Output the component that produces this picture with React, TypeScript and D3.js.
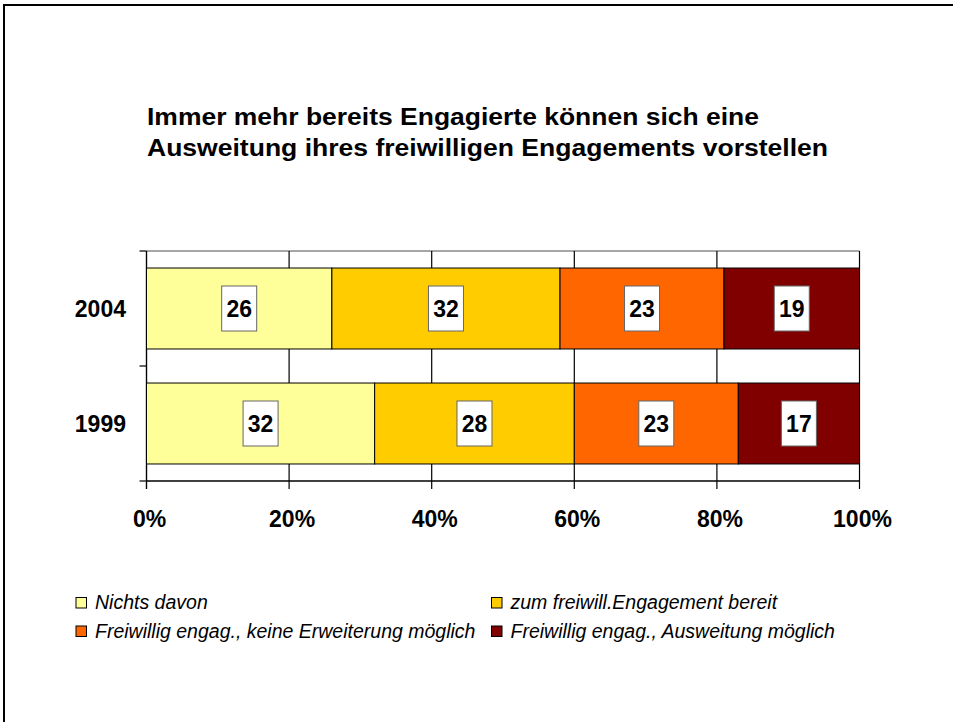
import React, { useEffect, useRef } from "react";
import * as d3 from "d3";

const years = ["2004", "1999"];
const seriesNames = [
  "Nichts davon",
  "zum freiwill.Engagement bereit",
  "Freiwillig engag., keine Erweiterung möglich",
  "Freiwillig engag., Ausweitung möglich",
];
const values2004 = [26, 32, 23, 19];
const values1999 = [32, 28, 23, 17];
const xTicks = [0, 20, 40, 60, 80, 100];
const colors = ["#FFFF99", "#FFCC00", "#FF6600", "#800000"];
const titleLines = [
  "Immer mehr bereits Engagierte können sich eine",
  "Ausweitung ihres freiwilligen Engagements vorstellen",
];

export default function App() {
  const ref = useRef<SVGSVGElement>(null);

  useEffect(() => {
    const svg = d3.select(ref.current);
    svg.selectAll("*").remove();
    const W = 953, H = 722;
    const left = 146.5, right = 859.5, top = 251, bottom = 481;
    const font = "Liberation Sans, Arial, sans-serif";

    // frame
    svg.append("line").attr("x1", 4).attr("x2", W).attr("y1", 5).attr("y2", 5).attr("stroke", "#000").attr("stroke-width", 2);
    svg.append("line").attr("x1", 4).attr("x2", 4).attr("y1", 4).attr("y2", H).attr("stroke", "#000").attr("stroke-width", 2);

    // title
    const tLens = [612, 681];
    titleLines.forEach((t, i) => {
      svg.append("text").attr("x", 147).attr("y", 124.5 + i * 31.5)
        .attr("font-family", font).attr("font-weight", "bold").attr("font-size", 23.5)
        .attr("textLength", tLens[i]).attr("lengthAdjust", "spacingAndGlyphs")
        .text(t);
    });

    const x = d3.scaleLinear().domain([0, 100]).range([left, right]);
    const y = d3.scaleBand().domain(years).range([top, bottom]).paddingInner(0.296).paddingOuter(0.148);

    // plot area top border (gray)
    svg.append("line").attr("x1", left).attr("x2", right).attr("y1", top).attr("y2", top).attr("stroke", "#888").attr("stroke-width", 1.5);

    // gridlines + ticks
    xTicks.forEach((t) => {
      svg.append("line").attr("x1", x(t)).attr("x2", x(t)).attr("y1", top).attr("y2", bottom + 8)
        .attr("stroke", "#000").attr("stroke-width", 1.2);
    });

    // y axis
    svg.append("line").attr("x1", left).attr("x2", left).attr("y1", top).attr("y2", bottom + 8).attr("stroke", "#000").attr("stroke-width", 1.2);
    [top, (top + bottom) / 2, bottom].forEach((yy) => {
      svg.append("line").attr("x1", left - 7).attr("x2", left).attr("y1", yy).attr("y2", yy).attr("stroke", "#000").attr("stroke-width", 1.2);
    });

    const data = [values2004, values1999];
    data.forEach((vals, ri) => {
      const yr = years[ri];
      const by = y(yr)!;
      const bh = y.bandwidth();
      const stack = d3.cumsum(vals);
      vals.forEach((v, i) => {
        const x0 = x(stack[i] - v), x1 = x(stack[i]);
        svg.append("rect").attr("x", x0).attr("y", by).attr("width", x1 - x0).attr("height", bh)
          .attr("fill", colors[i]).attr("stroke", "#000").attr("stroke-width", 1);
      });
      vals.forEach((v, i) => {
        const cx = (x(stack[i] - v) + x(stack[i])) / 2;
        const cy = by + bh / 2;
        svg.append("rect").attr("x", cx - 17.5).attr("y", cy - 22.5).attr("width", 35).attr("height", 45)
          .attr("fill", "#fff").attr("stroke", "#666").attr("stroke-width", 1);
        svg.append("text").attr("x", cx).attr("y", cy + 8.5).attr("text-anchor", "middle")
          .attr("font-family", font).attr("font-weight", "bold").attr("font-size", 23).text(String(v));
      });
      svg.append("text").attr("x", 126).attr("y", by + bh / 2 + 8.5).attr("text-anchor", "end")
        .attr("font-family", font).attr("font-weight", "bold").attr("font-size", 23).text(yr);
    });

    // x axis
    svg.append("line").attr("x1", left).attr("x2", right).attr("y1", bottom).attr("y2", bottom).attr("stroke", "#000").attr("stroke-width", 1.5);
    xTicks.forEach((t) => {
      svg.append("text").attr("x", x(t) + 3).attr("y", 527).attr("text-anchor", "middle")
        .attr("font-family", font).attr("font-weight", "bold").attr("font-size", 23).text(`${t}%`);
    });

    // legend
    const legX = [76, 491.5];
    const legY = [597.5, 626];
    seriesNames.forEach((n, i) => {
      const lx = legX[i % 2], ly = legY[Math.floor(i / 2)];
      svg.append("rect").attr("x", lx).attr("y", ly).attr("width", 10.5).attr("height", 10.5)
        .attr("fill", colors[i]).attr("stroke", "#000").attr("stroke-width", 1);
      svg.append("text").attr("x", lx + 19).attr("y", ly + 11.5)
        .attr("font-family", font).attr("font-style", "italic").attr("font-size", 19.5).text(n);
    });
  }, []);

  return (
    <svg ref={ref} width={953} height={722} style={{ position: "absolute", left: 0, top: 0, background: "#fff" }} />
  );
}
